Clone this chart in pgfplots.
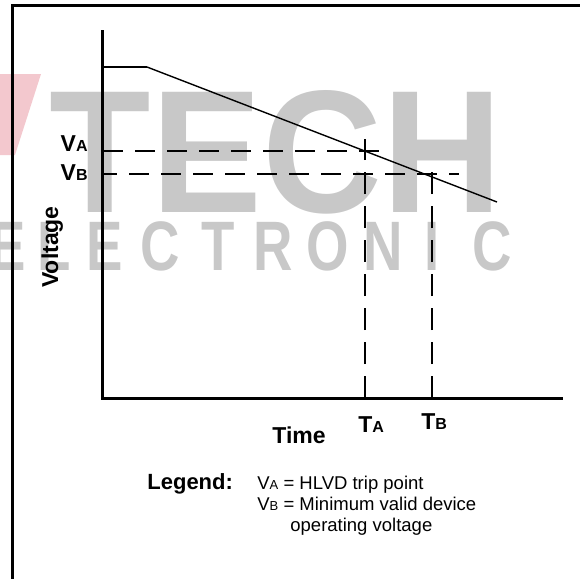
\documentclass[border=0pt]{standalone}
\usepackage{fontspec}
\setmainfont{Liberation Sans}
\usepackage{pgfplots}
\pgfplotsset{compat=1.18}
\definecolor{wm}{RGB}{200,200,200}
\definecolor{wmred}{RGB}{243,200,206}

% small letter after V / T
\newcommand\sm[2]{{\fontsize{#1}{#1}\selectfont #2}}
\tikzset{wmlet/.style={wm, anchor=base, inner sep=0pt, font=\bfseries\fontsize{35}{35}\selectfont}}
\newcommand\wl[1]{\scalebox{0.78}[1]{#1}}

\begin{document}
\begin{tikzpicture}
\begin{axis}[
    scale only axis, width=290pt, height=289.5pt,
    xmin=0, xmax=580, ymin=0, ymax=579, y dir=reverse,
    axis lines=none, clip=false,
  ]
  % watermark
  \fill[wmred] (axis cs:0,74) -- (axis cs:41,74) -- (axis cs:15,155) -- (axis cs:0,155) -- cycle;
  \node[wm, inner sep=0pt] at (axis cs:276,152) {\resizebox{226pt}{61pt}{\bfseries TECH}};
  \node[wmlet] at (axis cs:8,270) {\wl{E}};
  \node[wmlet] at (axis cs:54,270) {\wl{L}};
  \node[wmlet] at (axis cs:105,270) {\wl{E}};
  \node[wmlet] at (axis cs:160,270) {\wl{C}};
  \node[wmlet] at (axis cs:218,270) {\wl{T}};
  \node[wmlet] at (axis cs:273,270) {\wl{R}};
  \node[wmlet] at (axis cs:328,270) {\wl{O}};
  \node[wmlet] at (axis cs:383,270) {\wl{N}};
  \node[wmlet] at (axis cs:432,270) {\wl{I}};
  \node[wmlet] at (axis cs:492,270) {\wl{C}};

  % frame
  \addplot[black, line width=1.3pt, mark=none] coordinates {(12.5,579) (12.5,5.5) (580,5.5)};
  % axes
  \addplot[black, line width=1.5pt, mark=none] coordinates {(102,30) (102,398) (563,398)};
  % voltage curve
  \addplot[black, line width=1pt, mark=none] coordinates {(102,67) (147,67)};
  \addplot[black, line width=0.7pt, mark=none] coordinates {(147,67) (497,202)};
  % trip levels
  \addplot[black, line width=1pt, mark=none, dash pattern=on 10pt off 6pt] coordinates {(103,151) (381,151)};
  \addplot[black, line width=1pt, mark=none, dash pattern=on 10pt off 6pt, dash phase=3pt] coordinates {(103,174) (459,174)};
  \addplot[black, line width=1pt, mark=none, dash pattern=on 11pt off 6pt] coordinates {(365,398) (365,139)};
  \addplot[black, line width=1pt, mark=none, dash pattern=on 11pt off 6pt] coordinates {(432,398) (432,160)};

  % labels
  \node[anchor=base east, inner sep=0pt, font=\bfseries\fontsize{11.5}{13}\selectfont] at (axis cs:88,151) {V\sm{8}{A}};
  \node[anchor=base east, inner sep=0pt, font=\bfseries\fontsize{11.5}{13}\selectfont] at (axis cs:88,180) {V\sm{8}{B}};
  \node[rotate=90, anchor=base, inner sep=0pt, font=\bfseries\fontsize{11.5}{13}\selectfont] at (axis cs:58,247) {Voltage};
  \node[anchor=base, inner sep=0pt, font=\bfseries\fontsize{11.5}{13}\selectfont] at (axis cs:299,443) {Time};
  \node[anchor=base west, inner sep=0pt, font=\bfseries\fontsize{11.5}{13}\selectfont] at (axis cs:358,432) {T\sm{8}{A}};
  \node[anchor=base west, inner sep=0pt, font=\bfseries\fontsize{11.5}{13}\selectfont] at (axis cs:421,429) {T\sm{8}{B}};

  % legend
  \node[anchor=base west, inner sep=0pt, font=\bfseries\fontsize{11}{13}\selectfont] at (axis cs:147,489) {Legend:};
  \node[anchor=base west, inner sep=0pt, font=\fontsize{9.25}{11}\selectfont] at (axis cs:257,489) {V\sm{6.5}{A} = HLVD trip point};
  \node[anchor=base west, inner sep=0pt, font=\fontsize{9.25}{11}\selectfont] at (axis cs:257,510) {V\sm{6.5}{B} = Minimum valid device};
  \node[anchor=base west, inner sep=0pt, font=\fontsize{9.25}{11}\selectfont] at (axis cs:290,531) {operating voltage};
\end{axis}
\pgfresetboundingbox
\path (current axis.south west) rectangle (current axis.north east);
\end{tikzpicture}
\end{document}
